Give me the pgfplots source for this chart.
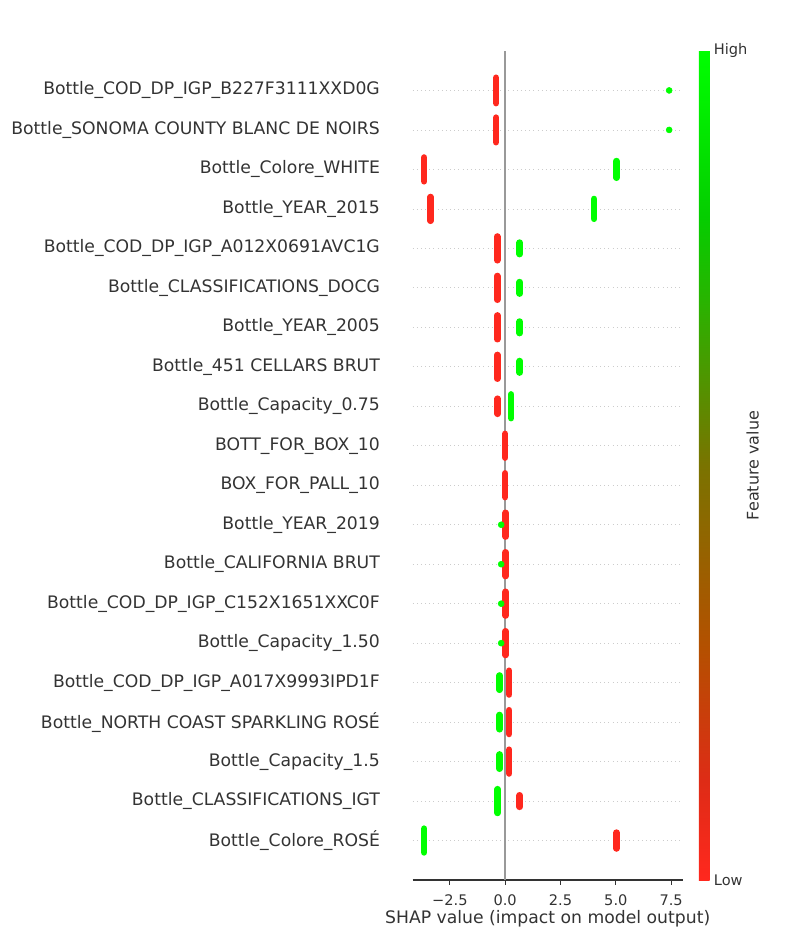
\documentclass[border=0pt]{standalone}
\usepackage{pgfplots}
\usepackage{pgfplotstable}
\pgfplotsset{compat=1.18}
\usepackage{fontspec}
\setmainfont{DejaVu Sans}
\definecolor{shapred}{RGB}{255,40,30}
\definecolor{shapgreen}{RGB}{0,255,0}
\definecolor{axgray}{HTML}{333333}
\definecolor{zerogray}{HTML}{999999}
\definecolor{gridgray}{HTML}{CCCCCC}

\pgfplotstableread{
x y
-0.41 18.68
-0.41 19.32
nan nan
-0.41 17.69
-0.41 18.31
nan nan
-3.66 16.70
-3.66 17.30
nan nan
-3.37 15.70
-3.37 16.30
nan nan
-0.36 14.70
-0.36 15.30
nan nan
-0.36 13.70
-0.36 14.30
nan nan
-0.36 12.70
-0.36 13.30
nan nan
-0.36 11.70
-0.36 12.30
nan nan
-0.34 10.81
-0.34 11.19
nan nan
0.00 9.70
0.00 10.30
nan nan
0.00 8.70
0.00 9.30
nan nan
0.02 7.70
0.02 8.30
nan nan
0.02 6.70
0.02 7.30
nan nan
0.02 5.70
0.02 6.30
nan nan
0.02 4.70
0.02 5.30
nan nan
0.18 3.70
0.18 4.30
nan nan
0.18 2.70
0.18 3.30
nan nan
0.18 1.70
0.18 2.30
nan nan
0.66 0.855
0.66 1.145
nan nan
5.03 -0.20
5.03 0.20
}\redbars

\pgfplotstableread{
x y
5.03 16.79
5.03 17.21
nan nan
4.02 15.75
4.02 16.25
nan nan
0.66 14.855
0.66 15.145
nan nan
0.66 13.855
0.66 14.145
nan nan
0.66 12.855
0.66 13.145
nan nan
0.66 11.855
0.66 12.145
nan nan
0.27 10.70
0.27 11.30
nan nan
-0.25 3.82
-0.25 4.18
nan nan
-0.25 2.82
-0.25 3.18
nan nan
-0.25 1.82
-0.25 2.18
nan nan
-0.34 0.70
-0.34 1.30
nan nan
-3.66 -0.30
-3.66 0.30
}\greenbars

\pgfplotstableread{
x y
7.41 19
7.41 18
-0.18 8
-0.18 7
-0.18 6
-0.18 5
}\greendots

\begin{document}
\begin{tikzpicture}
\path[use as bounding box] (0,0) rectangle (579.6bp,681.1bp);
\begin{axis}[
  at={(297.1bp,47.5bp)}, anchor=south west,
  scale only axis, width=194.4bp, height=596.9bp,
  xmin=-4.18, xmax=8.02, ymin=-1, ymax=20,
  axis x line*=bottom, axis y line*=left,
  y axis line style={draw=none},
  x axis line style={axgray, line width=0.8bp},
  xtick={-2.5,0,2.5,5,7.5},
  xticklabels={−2.5,0.0,2.5,5.0,7.5},
  xtick style={axgray, line width=0.8bp},
  tick align=outside, major tick length=3.5bp,
  ytick={0,...,19},
  yticklabels={
    Bottle\_Colore\_ROSÉ,
    Bottle\_CLASSIFICATIONS\_IGT,
    Bottle\_Capacity\_1.5,
    Bottle\_NORTH COAST SPARKLING ROSÉ,
    Bottle\_COD\_DP\_IGP\_A017X9993IPD1F,
    Bottle\_Capacity\_1.50,
    Bottle\_COD\_DP\_IGP\_C152X1651XXC0F,
    Bottle\_CALIFORNIA BRUT,
    Bottle\_YEAR\_2019,
    BOX\_FOR\_PALL\_10,
    BOTT\_FOR\_BOX\_10,
    Bottle\_Capacity\_0.75,
    Bottle\_451 CELLARS BRUT,
    Bottle\_YEAR\_2005,
    Bottle\_CLASSIFICATIONS\_DOCG,
    Bottle\_COD\_DP\_IGP\_A012X0691AVC1G,
    Bottle\_YEAR\_2015,
    Bottle\_Colore\_WHITE,
    Bottle\_SONOMA COUNTY BLANC DE NOIRS,
    Bottle\_COD\_DP\_IGP\_B227F3111XXD0G},
  ytick style={draw=none},
  ymajorgrids,
  major grid style={gridgray, line width=0.5bp, dash pattern=on 0.5bp off 2.5bp},
  yticklabel style={font=\fontsize{12.4bp}{15bp}\selectfont, text=axgray, anchor=east, inner sep=0pt, xshift=-19.9bp},
  xticklabel style={font=\fontsize{10.5bp}{13bp}\selectfont, text=axgray, anchor=base, inner sep=0pt, yshift=-14.9bp},
  xlabel={SHAP value (impact on model output)},
  xlabel style={font=\fontsize{12.4bp}{15bp}\selectfont, text=axgray, at={(axis description cs:0.5,0)}, anchor=base, inner sep=0pt, yshift=-31.2bp},
  unbounded coords=jump,
  colormap={shap}{rgb255(0pt)=(255,40,30) rgb255(12pt)=(222,44,22) rgb255(28pt)=(180,80,0) rgb255(50pt)=(122,115,0) rgb255(70pt)=(40,180,0) rgb255(80pt)=(5,205,0) rgb255(100pt)=(0,255,0)},
  colorbar,
  point meta min=0, point meta max=1,
  colorbar style={
    at={(parent axis.north east)}, anchor=north west, xshift=3.2bp,
    scale only axis, width=7.7bp, height=596.9bp,
    ytick={0,1}, yticklabels={Low,High},
    axis line style={draw=none}, ytick style={draw=none},
    yticklabel style={font=\fontsize{10.5bp}{13bp}\selectfont, text=axgray, anchor=west, inner sep=0pt, xshift=2.9bp},
    ylabel={Feature value},
    ylabel style={font=\fontsize{11.5bp}{14bp}\selectfont, text=axgray, at={(axis description cs:5.02,0.5)}, anchor=center, inner sep=0pt},
  },
]
\addplot[zerogray, line width=1.5bp, forget plot] coordinates {(0,-1) (0,20)};
\addplot[shapgreen, line width=4.8bp, line cap=round, forget plot] table[x=x,y=y] {\greenbars};
\addplot[only marks, mark=*, mark size=2.15bp, shapgreen, mark options={draw=shapgreen, fill=shapgreen}, forget plot] table[x=x,y=y] {\greendots};
\addplot[shapred, line width=4.8bp, line cap=round, forget plot] table[x=x,y=y] {\redbars};
\end{axis}
\end{tikzpicture}
\end{document}
